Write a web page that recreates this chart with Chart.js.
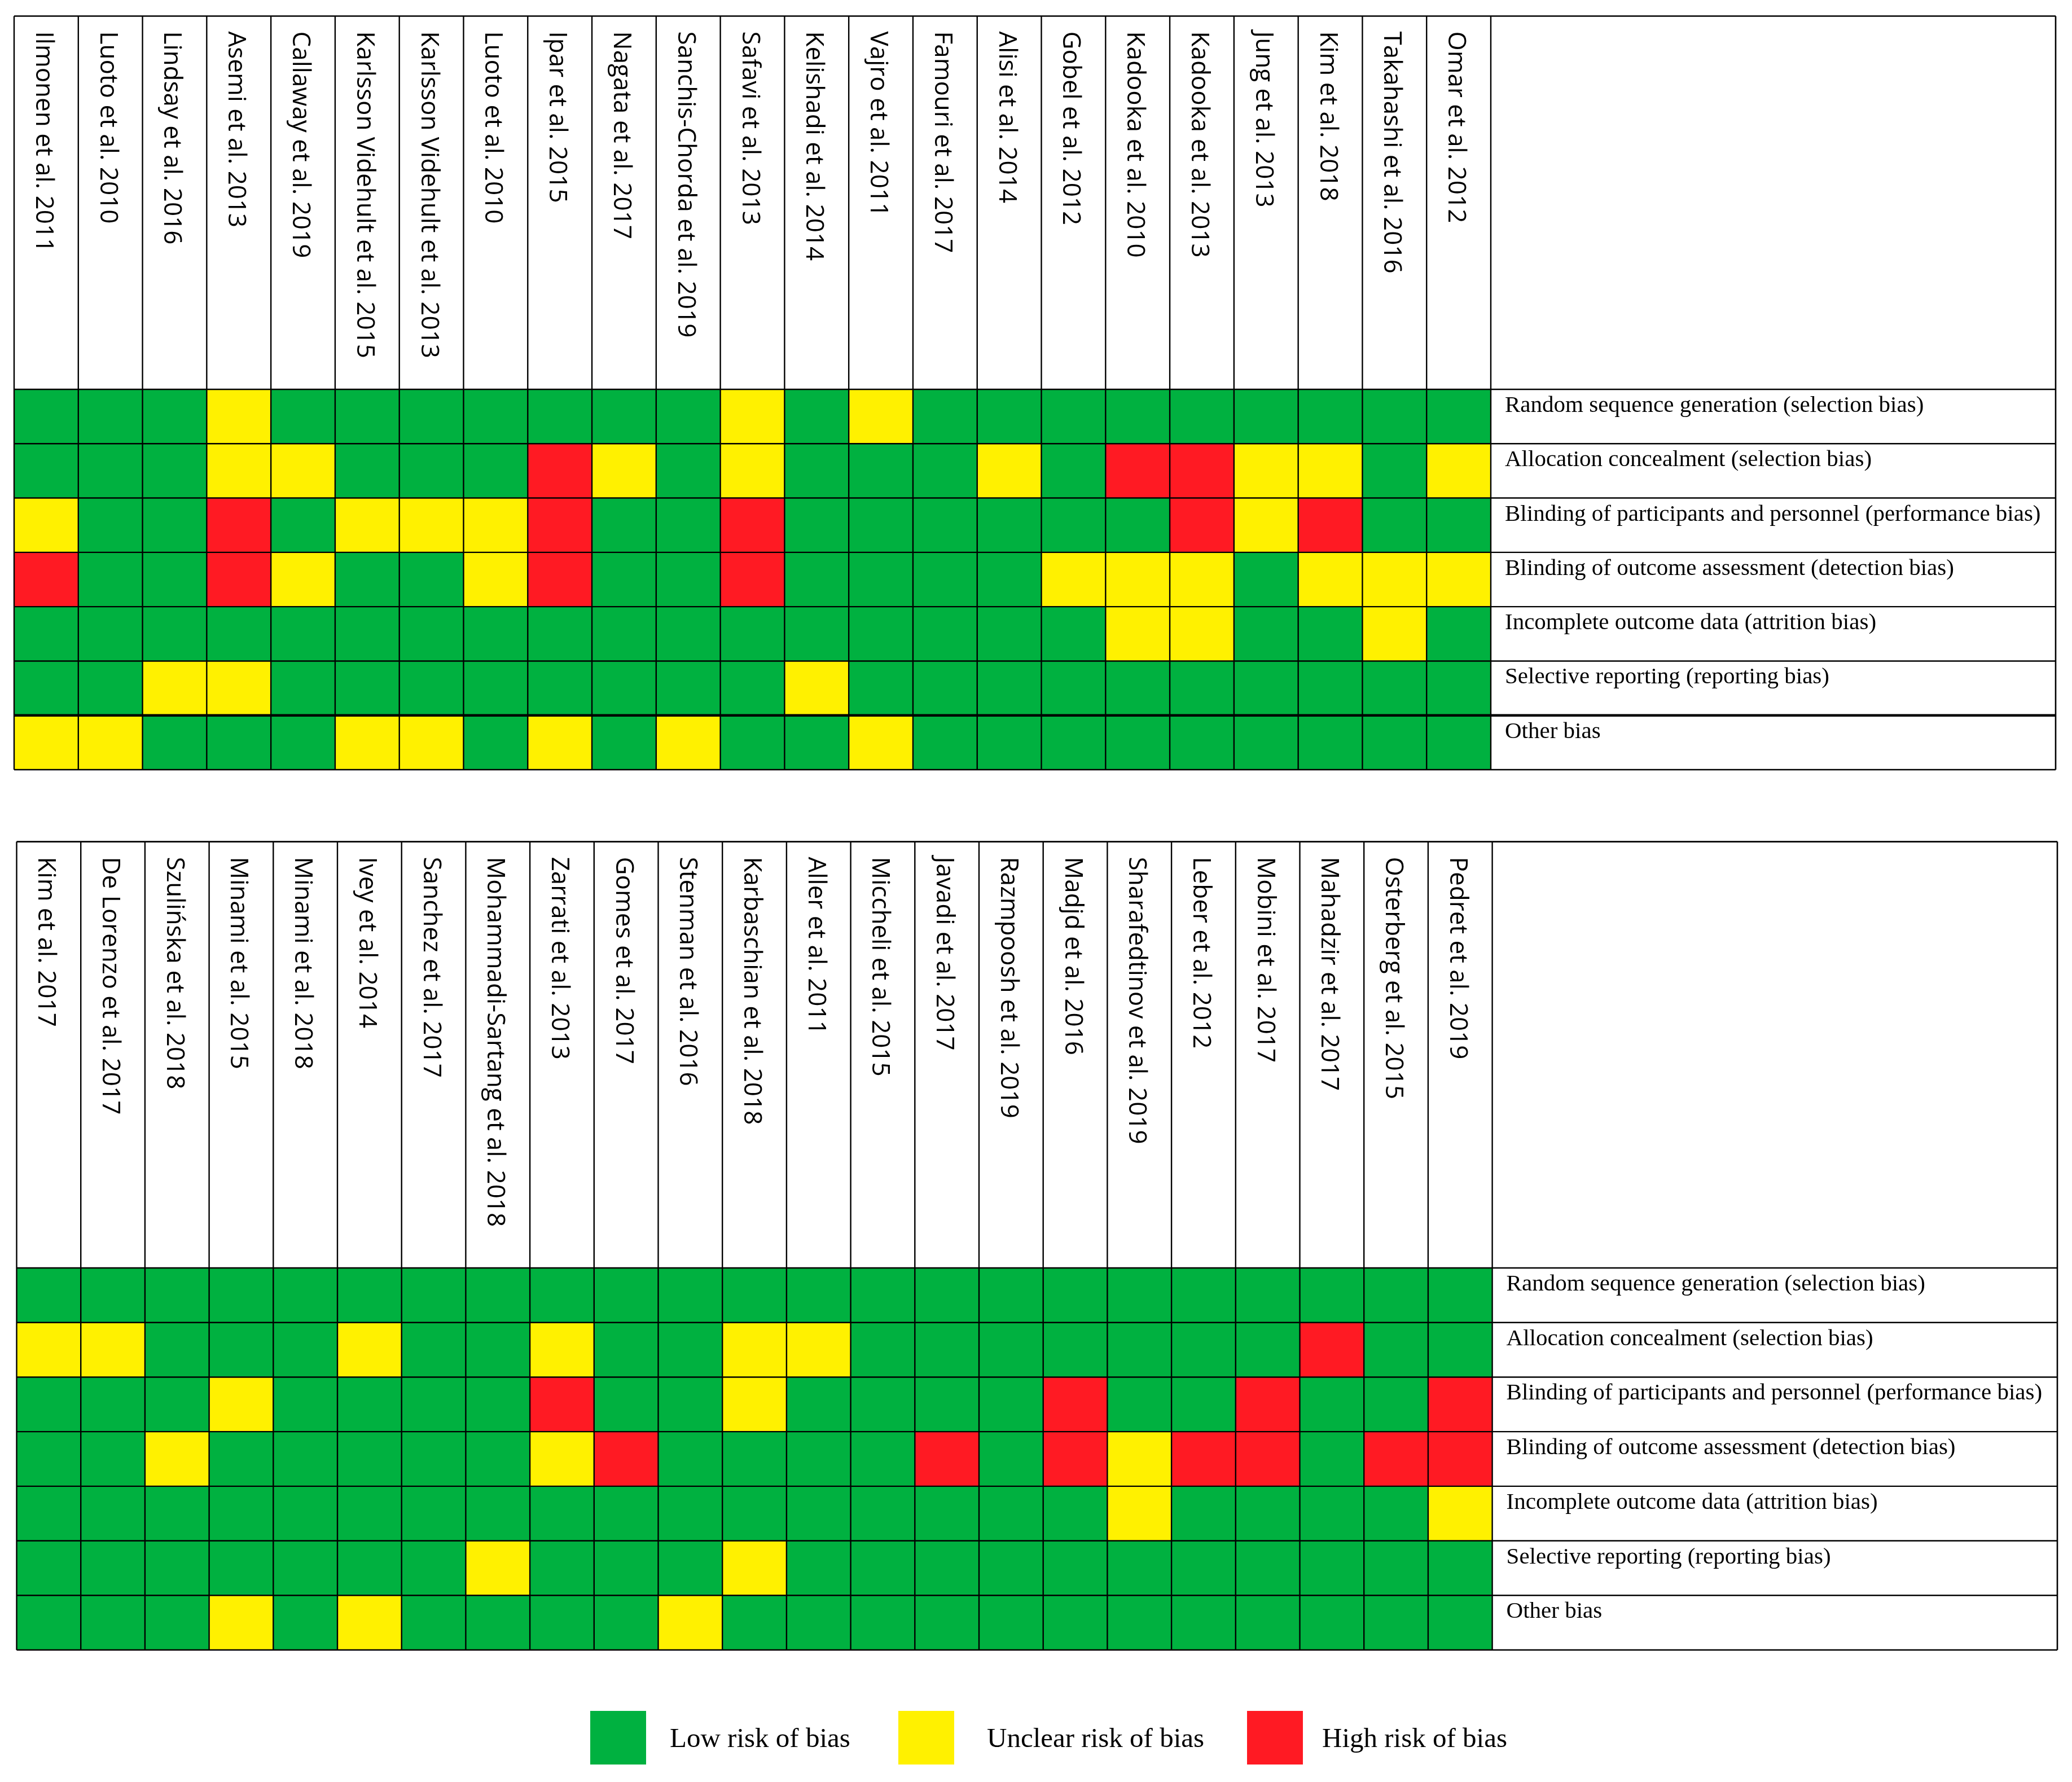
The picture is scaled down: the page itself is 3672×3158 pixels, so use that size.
<!DOCTYPE html>
<html><head><meta charset="utf-8">
<script src="https://cdn.jsdelivr.net/npm/chart.js@4.4.1/dist/chart.umd.min.js"></script>
<style>
html,body{margin:0;padding:0;background:#fff;}
#wrap{position:relative;width:3672px;height:3158px;background:#fff;}
canvas{position:absolute;left:0;top:0;}
</style></head><body>
<div id="wrap"><canvas id="c1" width="3672" height="3158"></canvas><canvas id="c2" width="3672" height="3158"></canvas></div>
<script>
// Risk-of-bias domains (row labels)
const domains = [
  'Random sequence generation (selection bias)',
  'Allocation concealment (selection bias)',
  'Blinding of participants and personnel (performance bias)',
  'Blinding of outcome assessment (detection bias)',
  'Incomplete outcome data (attrition bias)',
  'Selective reporting (reporting bias)',
  'Other bias'
];

const legendLabels = ['Low risk of bias', 'Unclear risk of bias', 'High risk of bias'];
const ratingKeys = ['L', 'U', 'H'];
const COLOR = { L: '#00B140', U: '#FFF100', H: '#FF1A23' };

// Studies – top panel
const studiesTop = [
  'Ilmonen et al. 2011','Luoto et al. 2010','Lindsay et al. 2016','Asemi et al. 2013',
  'Callaway et al. 2019','Karlsson Videhult et al. 2015','Karlsson Videhult et al. 2013',
  'Luoto et al. 2010','Ipar et al. 2015','Nagata et al. 2017','Sanchis-Chorda et al. 2019',
  'Safavi et al. 2013','Kelishadi et al. 2014','Vajro et al. 2011','Famouri et al. 2017',
  'Alisi et al. 2014','Gobel et al. 2012','Kadooka et al. 2010','Kadooka et al. 2013',
  'Jung et al. 2013','Kim et al. 2018','Takahashi et al. 2016','Omar et al. 2012'
];
// L = low, U = unclear, H = high risk
const topRandom     = ['L','L','L','U','L','L','L','L','L','L','L','U','L','U','L','L','L','L','L','L','L','L','L'];
const topAlloc      = ['L','L','L','U','U','L','L','L','H','U','L','U','L','L','L','U','L','H','H','U','U','L','U'];
const topBlindPart  = ['U','L','L','H','L','U','U','U','H','L','L','H','L','L','L','L','L','L','H','U','H','L','L'];
const topBlindOut   = ['H','L','L','H','U','L','L','U','H','L','L','H','L','L','L','L','U','U','U','L','U','U','U'];
const topIncomplete = ['L','L','L','L','L','L','L','L','L','L','L','L','L','L','L','L','L','U','U','L','L','U','L'];
const topSelective  = ['L','L','U','U','L','L','L','L','L','L','L','L','U','L','L','L','L','L','L','L','L','L','L'];
const topOther      = ['U','U','L','L','L','U','U','L','U','L','U','L','L','U','L','L','L','L','L','L','L','L','L'];

// Studies – bottom panel
const studiesBottom = [
  'Kim et al. 2017','De Lorenzo et al. 2017','Szulińska et al. 2018','Minami et al. 2015',
  'Minami et al. 2018','Ivey et al. 2014','Sanchez et al. 2017','Mohammadi-Sartang et al. 2018',
  'Zarrati et al. 2013','Gomes et al. 2017','Stenman et al. 2016','Karbaschian et al. 2018',
  'Aller et al. 2011','Miccheli et al. 2015','Javadi et al. 2017','Razmpoosh et al. 2019',
  'Madjd et al. 2016','Sharafedtinov et al. 2019','Leber et al. 2012','Mobini et al. 2017',
  'Mahadzir et al. 2017','Osterberg et al. 2015','Pedret et al. 2019'
];
const botRandom     = ['L','L','L','L','L','L','L','L','L','L','L','L','L','L','L','L','L','L','L','L','L','L','L'];
const botAlloc      = ['U','U','L','L','L','U','L','L','U','L','L','U','U','L','L','L','L','L','L','L','H','L','L'];
const botBlindPart  = ['L','L','L','U','L','L','L','L','H','L','L','U','L','L','L','L','H','L','L','H','L','L','H'];
const botBlindOut   = ['L','L','U','L','L','L','L','L','U','H','L','L','L','L','H','L','H','U','H','H','L','H','H'];
const botIncomplete = ['L','L','L','L','L','L','L','L','L','L','L','L','L','L','L','L','L','U','L','L','L','L','U'];
const botSelective  = ['L','L','L','L','L','L','L','U','L','L','L','U','L','L','L','L','L','L','L','L','L','L','L'];
const botOther      = ['L','L','L','U','L','U','L','L','L','L','U','L','L','L','L','L','L','L','L','L','L','L','L'];

const topRows = [topRandom, topAlloc, topBlindPart, topBlindOut, topIncomplete, topSelective, topOther];
const botRows = [botRandom, botAlloc, botBlindPart, botBlindOut, botIncomplete, botSelective, botOther];

const tablePlugin = {
  id: 'robTable',
  afterDraw(chart, args, o) {
    const ctx = chart.ctx;
    const xs = chart.scales.x, ys = chart.scales.y;
    const ca = chart.chartArea;
    const n = chart.data.labels.length;
    const w = xs.getPixelForValue(1) - xs.getPixelForValue(0);
    const nRows = chart.data.datasets.length;
    ctx.save();
    ctx.strokeStyle = '#000';
    // horizontal lines
    for (let r = 0; r <= nRows; r++) {
      const y = ys.getPixelForValue(r);
      ctx.lineWidth = (r === o.thick) ? 4.5 : 2.4;
      ctx.beginPath(); ctx.moveTo(ca.left, y); ctx.lineTo(o.tableRight, y); ctx.stroke();
    }
    // top border
    ctx.lineWidth = 2.6;
    ctx.beginPath(); ctx.moveTo(ca.left, o.tableTop); ctx.lineTo(o.tableRight, o.tableTop); ctx.stroke();
    // vertical lines
    for (let k = 0; k <= n; k++) {
      const x = xs.getPixelForValue(k) - w / 2;
      ctx.lineWidth = 2.4;
      ctx.beginPath(); ctx.moveTo(x, o.tableTop); ctx.lineTo(x, ca.bottom); ctx.stroke();
    }
    ctx.lineWidth = 2.6;
    ctx.beginPath(); ctx.moveTo(o.tableRight, o.tableTop); ctx.lineTo(o.tableRight, ca.bottom); ctx.stroke();
    // header study names (rotated clockwise)
    ctx.fillStyle = '#000';
    ctx.font = '44px "Open Sans"';
    ctx.textAlign = 'left';
    ctx.textBaseline = 'alphabetic';
    chart.data.labels.forEach((lab, k) => {
      const cx = xs.getPixelForValue(k);
      ctx.save();
      ctx.translate(cx - 18, o.tableTop + 27);
      ctx.rotate(Math.PI / 2);
      ctx.fillText(lab, 0, 0);
      ctx.restore();
    });
    // row labels
    ctx.font = '41px "Liberation Serif"';
    chart.data.datasets.forEach((ds, r) => {
      const y = ys.getPixelForValue(r);
      ctx.fillText(ds.label, ca.right + 25, y + 40);
    });
    // legend
    if (o.legend) {
      ctx.font = '49px "Liberation Serif"';
      const y = o.legend.y;
      ratingKeys.forEach((k, i) => {
        ctx.fillStyle = COLOR[k];
        ctx.fillRect(o.legend.boxX[i], y, 99, 95);
        ctx.fillStyle = '#000';
        ctx.fillText(legendLabels[i], o.legend.textX[i], y + 64);
      });
    }
    ctx.restore();
  }
};

function makeChart(id, studies, rows, pad, opts) {
  const datasets = rows.map((r, i) => ({
    label: domains[i],
    data: r.map(() => 1),
    backgroundColor: r.map(c => COLOR[c]),
    borderWidth: 0,
    categoryPercentage: 1,
    barPercentage: 1,
    stack: 'rob'
  }));
  return new Chart(document.getElementById(id), {
    type: 'bar',
    data: { labels: studies, datasets },
    options: {
      responsive: false,
      animation: false,
      devicePixelRatio: 1,
      layout: { padding: pad },
      plugins: { legend: { display: false }, tooltip: { enabled: false }, robTable: opts },
      scales: {
        x: { stacked: true, display: false },
        y: { stacked: true, display: false, min: 0, max: 7, reverse: true }
      }
    },
    plugins: [tablePlugin]
  });
}

makeChart('c1', studiesTop, topRows,
  { left: 25, top: 690, right: 3672 - 2642, bottom: 3158 - 1364 },
  { tableTop: 28.5, tableRight: 3643, thick: 6 });
makeChart('c2', studiesBottom, botRows,
  { left: 29.5, top: 2247, right: 3672 - 2644.6, bottom: 3158 - 2924 },
  { tableTop: 1491.6, tableRight: 3646, thick: -1,
    legend: { y: 3032, boxX: [1046, 1592, 2210], textX: [1187, 1749, 2343] } });
</script>
</body></html>
